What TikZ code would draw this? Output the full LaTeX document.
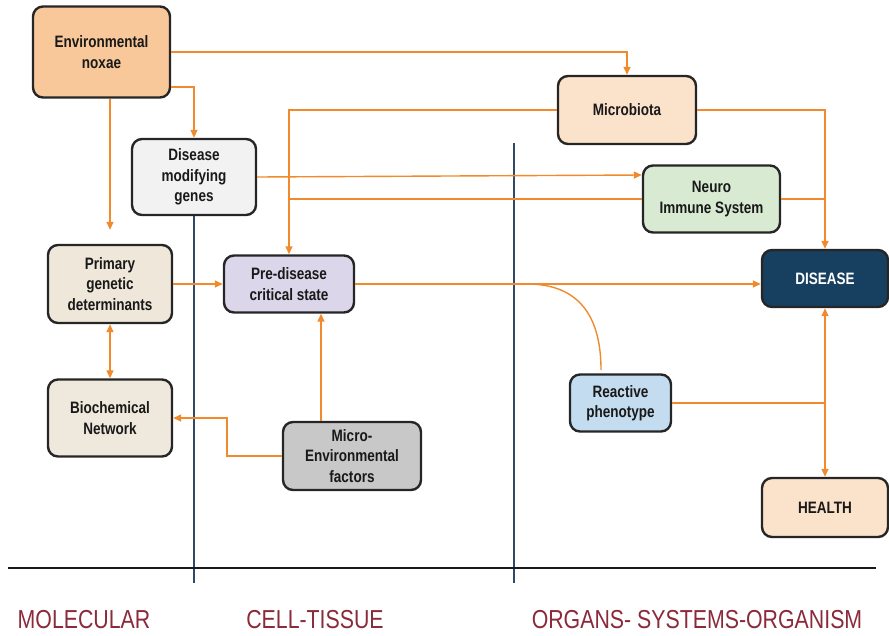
\documentclass[tikz,border=0pt]{standalone}
\usepackage{fontspec}
\usetikzlibrary{arrows.meta}
\newfontfamily\boxfont{Liberation Sans}[FakeStretch=0.82]
\definecolor{orng}{HTML}{F08A2C}
\definecolor{navyln}{HTML}{2E4A66}
\definecolor{lblred}{HTML}{8A2A3A}
\definecolor{cEN}{HTML}{F9C89A}
\definecolor{cDMG}{HTML}{F2F2F2}
\definecolor{cPGD}{HTML}{EEE7DA}
\definecolor{cPDS}{HTML}{DCD6EA}
\definecolor{cBN}{HTML}{EFE8DC}
\definecolor{cMEF}{HTML}{C8C8C8}
\definecolor{cMIC}{HTML}{FBE2CA}
\definecolor{cNIS}{HTML}{D8EAD2}
\definecolor{cDIS}{HTML}{173F5F}
\definecolor{cRP}{HTML}{C3DCF0}
\definecolor{cHL}{HTML}{FBE2CA}
\definecolor{bordr}{HTML}{262626}
\tikzset{
  box/.style={draw=bordr, line width=2.4pt, rounded corners=10pt, align=center,
    inner sep=2pt, text=black!90,
    font=\boxfont\bfseries\fontsize{16.5}{20.5}\selectfont},
  arr/.style={draw=orng, line width=1.4pt, -{Triangle[length=8pt,width=7pt]}},
  dbl/.style={draw=orng, line width=1.4pt, {Triangle[length=8pt,width=7pt]}-{Triangle[length=8pt,width=7pt]}},
  ln/.style={draw=orng, line width=1.4pt},
  divider/.style={draw=navyln, line width=1.6pt},
  lbl/.style={text=lblred, font=\boxfont\fontsize{26}{30}\selectfont}
}
\begin{document}
\begin{tikzpicture}[x=1pt,y=-1pt]
\useasboundingbox (0,0) rectangle (889,635);
% dividers
\draw[divider] (194,200) -- (194,583);
\draw[divider] (514,143) -- (514,583);
\draw[black!90, line width=2.6pt] (8,568) -- (876,568);
% nodes
\node[box, fill=cEN, minimum width=137pt, minimum height=91pt] (en) at (101.5,52) {Environmental\\noxae};
\node[box, fill=cDMG, minimum width=124pt, minimum height=76pt] (dmg) at (194,177) {Disease\\modifying\\genes};
\node[box, fill=cPGD, minimum width=124pt, minimum height=78pt] (pgd) at (110,284) {Primary\\genetic\\determinants};
\node[box, fill=cPDS, minimum width=130pt, minimum height=57pt] (pds) at (289,284) {Pre-disease\\critical state};
\node[box, fill=cBN, minimum width=124pt, minimum height=77pt] (bn) at (110,418) {Biochemical\\Network};
\node[box, fill=cMEF, minimum width=138pt, minimum height=68pt] (mef) at (352,456) {Micro-\\Environmental\\factors};
\node[box, fill=cMIC, minimum width=138pt, minimum height=68pt] (mic) at (627,110) {Microbiota};
\node[box, fill=cNIS, minimum width=137pt, minimum height=67pt] (nis) at (711.5,199) {Neuro\\Immune System};
\node[box, fill=cDIS, text=white, minimum width=126pt, minimum height=57pt] (dis) at (825,278.5) {DISEASE};
\node[box, fill=cRP, minimum width=101pt, minimum height=57pt] (rp) at (620.5,403) {Reactive\\phenotype};
\node[box, fill=cHL, minimum width=126pt, minimum height=59pt] (hl) at (825,507.5) {HEALTH};
% labels
\node[lbl] (l1) at (84,620) {MOLECULAR};
\node[lbl] (l2) at (315,620) {CELL-TISSUE};
\node[lbl] (l3) at (697,620) {ORGANS- SYSTEMS-ORGANISM};
% connectors
\draw[arr] (en.east) -| (mic.north);
\draw[arr] ([yshift=-35pt]en.east) -| (dmg.north);
\draw[arr, shorten >=14pt] (pgd.north |- en.south) -- (pgd.north);
\draw[arr] (mic.west) -| (pds.north);
\draw[arr] (mic.east) -| (dis.north);
\draw[arr] (dmg.east) -- ([yshift=24pt]nis.west);
\draw[ln] (nis.west) -- (nis.west -| pds.north);
\draw[ln] (nis.east) -- (nis.east -| dis.north);
\draw[arr] (pgd.east) -- (pds.west);
\draw[arr] (pds.east) -- (pds.east -| dis.west);
\coordinate (arcstart) at (527,284);
\coordinate (arcend) at (601,370);
\draw[ln] (arcstart) .. controls (582,284) and (601,320) .. (arcend);
\draw[dbl] (pgd.south) -- (bn.north);
\draw[arr] ([xshift=-31pt]mef.north) -- ([xshift=32pt]pds.south);
\draw[arr] (mef.west) -- ++(-55,0) |- (bn.east);
\draw[ln] (rp.east) -- (rp.east -| dis.south);
\draw[dbl] (dis.south) -- (hl.north);
\end{tikzpicture}
\end{document}
